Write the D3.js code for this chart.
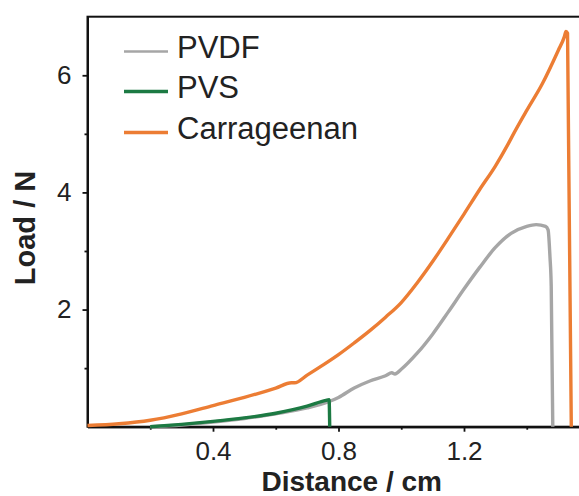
<!DOCTYPE html>
<html>
<head>
<meta charset="utf-8">
<script src="https://cdn.jsdelivr.net/npm/d3@7"></script>
<style>
  body { margin: 0; background: #fff; }
  text { font-family: "Liberation Sans", Arial, sans-serif; fill: #222; }
</style>
</head>
<body>
<div class="chart"></div>
<script>
// series
var pvdfDist = [0.2, 0.3, 0.4, 0.5, 0.6, 0.7, 0.77, 0.8, 0.85, 0.9, 0.95, 0.97, 0.98, 1.0, 1.05, 1.1, 1.15, 1.2, 1.25, 1.3, 1.35, 1.4, 1.43, 1.46, 1.468, 1.474, 1.478, 1.483];
var pvdfLoad = [0, 0.03, 0.08, 0.14, 0.22, 0.32, 0.43, 0.5, 0.66, 0.78, 0.87, 0.92, 0.9, 0.98, 1.25, 1.58, 1.96, 2.35, 2.72, 3.06, 3.3, 3.42, 3.45, 3.42, 3.36, 2.9, 2.4, 0];

var pvsDist = [0.2, 0.3, 0.4, 0.5, 0.6, 0.7, 0.76, 0.77, 0.772];
var pvsLoad = [0, 0.04, 0.09, 0.15, 0.23, 0.35, 0.45, 0.46, 0];

var carDist = [0, 0.1, 0.2, 0.3, 0.4, 0.5, 0.6, 0.65, 0.66, 0.7, 0.75, 0.8, 0.85, 0.9, 0.95, 1.0, 1.05, 1.1, 1.15, 1.2, 1.25, 1.3, 1.34, 1.36, 1.4, 1.45, 1.5, 1.52, 1.525, 1.53, 1.542];
var carLoad = [0.02, 0.05, 0.11, 0.22, 0.36, 0.5, 0.66, 0.75, 0.75, 0.88, 1.05, 1.23, 1.43, 1.64, 1.87, 2.12, 2.45, 2.82, 3.22, 3.63, 4.05, 4.45, 4.82, 5.02, 5.4, 5.86, 6.42, 6.66, 6.75, 6.72, 0];

var seriesNames = ["PVDF", "PVS", "Carrageenan"];
var seriesColors = ["#a6a6a6", "#1c7a43", "#ec7d34"];

var xMajor = [0.4, 0.8, 1.2];
var xMinor = [0.2, 0.6, 1.0, 1.4];
var yMajor = [2, 4, 6];
var yMinor = [1, 3, 5];

var svgWidth = 579;
var svgHeight = 496;

var margin = { top: 16.7, left: 87.5 };
var chartWidth = 502;
var chartHeight = 410;

var svg = d3.select(".chart")
  .append("svg")
  .attr("width", svgWidth)
  .attr("height", svgHeight);

var chartGroup = svg.append("g")
  .attr("transform", `translate(${margin.left}, ${margin.top})`);

var x = d3.scaleLinear().domain([0, 1.6]).range([0, chartWidth]);
var y = d3.scaleLinear().domain([0, 7]).range([chartHeight, 0]);

// frame (right side falls outside the picture)
chartGroup.append("rect")
  .attr("width", chartWidth)
  .attr("height", chartHeight)
  .attr("fill", "none")
  .attr("stroke", "#111")
  .attr("stroke-width", 2);

function styleAxis(g) {
  g.select(".domain").attr("stroke", "#111").attr("stroke-width", 2);
  g.selectAll(".tick line").attr("stroke", "#111").attr("stroke-width", 1.8);
  g.selectAll(".tick text").attr("fill", "#222").style("font-family", "Liberation Sans, Arial, sans-serif");
}

chartGroup.append("g")
  .attr("transform", `translate(0, ${chartHeight})`)
  .call(d3.axisBottom(x).tickValues(xMinor).tickSize(3).tickSizeOuter(0).tickFormat(""))
  .call(styleAxis);

chartGroup.append("g")
  .attr("transform", `translate(0, ${chartHeight})`)
  .call(d3.axisBottom(x).tickValues(xMajor).tickSize(5).tickSizeOuter(0).tickPadding(10).tickFormat(d3.format(".1f")))
  .call(styleAxis)
  .attr("font-size", 26);

chartGroup.append("g")
  .call(d3.axisLeft(y).tickValues(yMinor).tickSize(3).tickSizeOuter(0).tickFormat(""))
  .call(styleAxis);

chartGroup.append("g")
  .call(d3.axisLeft(y).tickValues(yMajor).tickSize(5).tickSizeOuter(0).tickPadding(11).tickFormat(d3.format("d")))
  .call(styleAxis)
  .attr("font-size", 26);

var line = d3.line()
  .curve(d3.curveMonotoneX)
  .x(d => x(d[0]))
  .y(d => y(d[1]));

var series = [
  { name: "PVDF", dist: pvdfDist, load: pvdfLoad, color: seriesColors[0] },
  { name: "Carrageenan", dist: carDist, load: carLoad, color: seriesColors[2] },
  { name: "PVS", dist: pvsDist, load: pvsLoad, color: seriesColors[1] }
];

series.forEach(function(s) {
  chartGroup.append("path")
    .datum(d3.zip(s.dist, s.load))
    .attr("fill", "none")
    .attr("stroke", s.color)
    .attr("stroke-width", 3.4)
    .attr("stroke-linejoin", "round")
    .attr("d", line);
});

// legend
var legend = svg.append("g");
seriesNames.forEach(function(name, i) {
  var ly = [51.5, 91.5, 132.5][i];
  legend.append("line")
    .attr("x1", 124).attr("x2", 168)
    .attr("y1", ly).attr("y2", ly)
    .attr("stroke", seriesColors[i])
    .attr("stroke-width", i === 0 ? 2.5 : 3.5);
  legend.append("text")
    .attr("x", 177)
    .attr("y", ly + 6.5)
    .attr("font-size", 31)
    .text(name);
});

// axis titles
svg.append("text")
  .attr("x", 351.7)
  .attr("y", 491)
  .attr("text-anchor", "middle")
  .attr("font-size", 28)
  .attr("font-weight", "bold")
  .attr("fill", "#111")
  .text("Distance / cm");

svg.append("text")
  .attr("transform", "translate(35, 228) rotate(-90)")
  .attr("text-anchor", "middle")
  .attr("font-size", 29)
  .attr("font-weight", "bold")
  .attr("fill", "#111")
  .text("Load / N");
</script>
</body>
</html>
